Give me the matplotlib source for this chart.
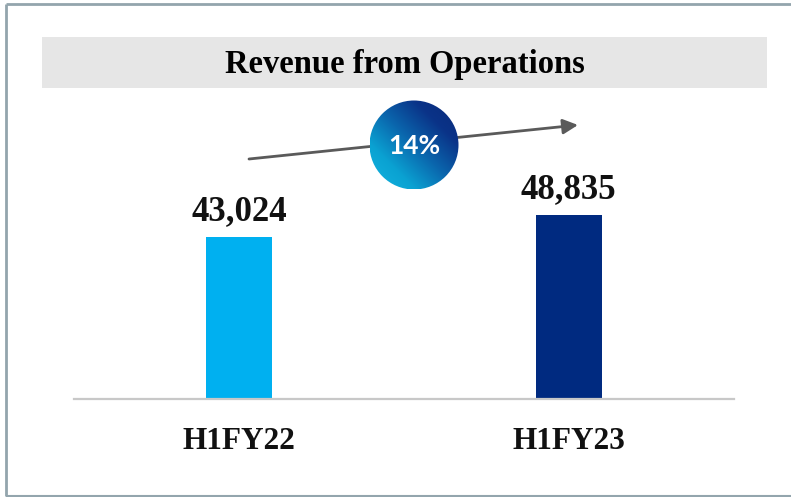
import numpy as np
import matplotlib
matplotlib.use("Agg")
import matplotlib.pyplot as plt
from matplotlib.patches import Circle, Rectangle
from matplotlib.colors import LinearSegmentedColormap

# Data
categories = ["H1FY22", "H1FY23"]
values = [43024, 48835]
value_labels = ["43,024", "48,835"]
bar_colors = ["#00b0f0", "#002a80"]
title = "Revenue from Operations"
growth_label = "14%"

W, H = 791, 497
fig = plt.figure(figsize=(W / 100, H / 100), dpi=100)

# Overlay axes in pixel coordinates
ov = fig.add_axes([0, 0, 1, 1], zorder=0)
ov.set_xlim(0, W)
ov.set_ylim(H, 0)
ov.axis("off")

# Frame lines (top, left, bottom)
frame_c = "#93a5ad"
ov.plot([6, W], [4, 4], color=frame_c, lw=2.0, solid_capstyle="butt")
ov.plot([6, 6], [4, 496], color=frame_c, lw=2.0, solid_capstyle="butt")
ov.plot([6, W], [496, 496], color=frame_c, lw=1.5, solid_capstyle="butt")

# Title band
ov.add_patch(Rectangle((42, 37), 725, 51, facecolor="#e6e6e6", edgecolor="none"))
ov.text(405, 73, title, ha="center", va="baseline", fontsize=23.5,
        fontweight="bold", family="Liberation Serif", color="#000000")

# Bar axes
left_px, right_px, base_px, top_px = 74, 734, 399, 100
ax = fig.add_axes([left_px / W, (H - base_px) / H, (right_px - left_px) / W,
                   (base_px - top_px) / H], zorder=1)
ax.patch.set_alpha(0)
x = np.arange(len(categories))
ax.bar(x, values, width=0.2, color=bar_colors, zorder=2)
ax.set_xlim(-0.5008, 1.502)
ax.set_ylim(0, 79400)
for s in ["top", "right", "left"]:
    ax.spines[s].set_visible(False)
ax.spines["bottom"].set_color("#c8c8c8")
ax.spines["bottom"].set_linewidth(1.6)
ax.set_yticks([])
ax.set_xticks(x)
ax.set_xticklabels(categories, fontsize=22.5, fontweight="bold",
                   family="Liberation Serif", color="#111111")
ax.tick_params(axis="x", length=0, pad=20)
for xi, v, lab in zip(x, values, value_labels):
    ax.annotate(lab, (xi, v), xytext=(0, 12), textcoords="offset points",
                ha="center", va="baseline", fontsize=25, fontweight="bold",
                family="Liberation Serif", color="#111111")

# Arrow and growth circle on top
top = fig.add_axes([0, 0, 1, 1], zorder=3)
top.set_xlim(0, W)
top.set_ylim(H, 0)
top.axis("off")
top.patch.set_alpha(0)
top.annotate("", xy=(578, 125), xytext=(249, 159),
             arrowprops=dict(arrowstyle="-|>,head_length=0.9,head_width=0.45",
                             color="#5a5a5a", lw=2.0, shrinkA=0, shrinkB=0),
             zorder=1)

cx, cy, r = 414, 145, 44.5
cmap = LinearSegmentedColormap.from_list(
    "g", ["#14b4e0", "#0aa2d2", "#0b66ad", "#0a3388", "#0a2a7a"])
n = 200
gx, gy = np.meshgrid(np.linspace(-1, 1, n), np.linspace(-1, 1, n))
t = (gx - gy) / 2.0
t = (t + 1) / 2.0
im = top.imshow(t, cmap=cmap, extent=(cx - r, cx + r, cy + r, cy - r),
                origin="upper", zorder=2, interpolation="bilinear")
circ = Circle((cx, cy), r, transform=top.transData, facecolor="none",
              edgecolor="none")
top.add_patch(circ)
im.set_clip_path(circ)
top.set_xlim(0, W)
top.set_ylim(H, 0)
top.text(cx, cy + 1, growth_label, ha="center", va="center", fontsize=19,
         fontweight="bold", family="Lato", color="white", zorder=3)

fig.savefig("out.png", dpi=100)
